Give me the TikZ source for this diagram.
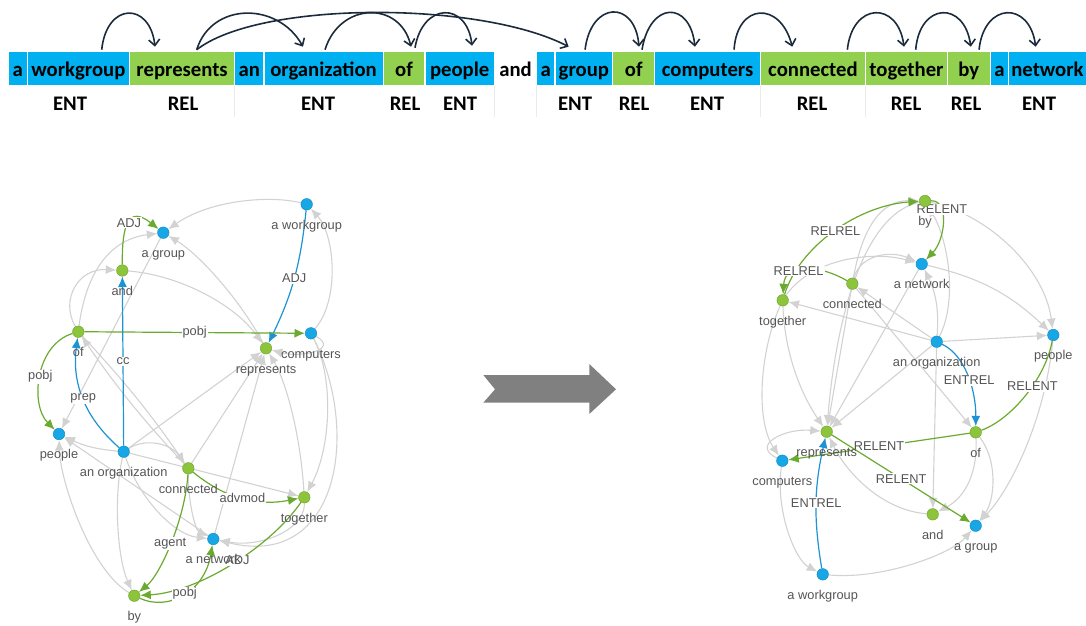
\documentclass[tikz,border=0pt]{standalone}
\usepackage{fontspec}
\setmainfont{Liberation Sans}
\newfontfamily\barfont{Carlito}
\usepackage{tikz}
\usetikzlibrary{positioning,arrows.meta,backgrounds}
\usepackage{xcolor}
\definecolor{entblue}{HTML}{00B0F0}
\definecolor{relgreen}{HTML}{92D050}
\definecolor{arcnavy}{HTML}{1C2B3C}
\definecolor{nodeblue}{HTML}{18A7E6}
\definecolor{nodegreen}{HTML}{8CC43C}
\definecolor{edgegray}{HTML}{D2D2D2}
\definecolor{edgegreen}{HTML}{6AAA2E}
\definecolor{edgeblue}{HTML}{1E93D3}
\definecolor{labgray}{HTML}{555555}
\definecolor{arrowgray}{HTML}{808080}

\begin{document}
\begin{tikzpicture}[x=1pt,y=-1pt,>={Latex[length=10.5pt,width=9pt]},
  node distance=1.2pt,
  word/.style={minimum height=33.3pt,inner sep=0pt,outer sep=0pt,
               font=\barfont\bfseries\fontsize{20.7}{24}\selectfont,
               text height=17pt,text depth=0pt},
  ent/.style={word,fill=entblue},
  rel/.style={word,fill=relgreen},
  tag/.style={font=\barfont\bfseries\fontsize{20.7}{24}\selectfont,anchor=base,inner sep=0pt},
  dep/.style={arcnavy,line width=1.6pt,-{Straight Barb[length=6pt,width=11pt]}},
  sepline/.style={black!8,line width=0.6pt},
  vb/.style={circle,minimum size=11.5pt,inner sep=0pt,fill=nodeblue,draw=nodeblue!85!black,line width=0.5pt},
  vg/.style={circle,minimum size=11.5pt,inner sep=0pt,fill=nodegreen,draw=nodegreen!85!black,line width=0.5pt},
  lbl/.style={font=\fontsize{12.8}{14}\selectfont,text=labgray,inner sep=0pt,
              text height=9.5pt,text depth=2.7pt},
  elbl/.style={font=\fontsize{12.8}{14}\selectfont,text=labgray,fill=white,inner sep=1pt},
  ge/.style={edgegray,line width=1.1pt,->},
  gre/.style={edgegreen,line width=1.2pt,->},
  ble/.style={edgeblue,line width=1.2pt,->}]
 \useasboundingbox (0,0) rectangle (1086,625);

 % sentence bar
 \node[ent,minimum width=17.7pt,anchor=west] (wa1) at (9,68.35) {a};
 \node[ent,minimum width=101pt,right=of wa1] (wwg) {workgroup};
 \node[rel,minimum width=104pt,right=of wwg] (wrep) {represents};
 \node[ent,minimum width=28pt,right=of wrep] (wan) {an};
 \node[ent,minimum width=118pt,right=of wan] (worg) {organization};
 \node[rel,minimum width=40.6pt,right=of worg] (wof1) {of};
 \node[ent,minimum width=68.4pt,right=of wof1] (wppl) {people};
 \node[word,minimum width=41pt,right=of wppl] (wand) {and};
 \node[ent,minimum width=17pt,right=of wand] (wa2) {a};
 \node[ent,minimum width=56.7pt,right=of wa2] (wgrp) {group};
 \node[rel,minimum width=40.6pt,right=of wgrp] (wof2) {of};
 \node[ent,minimum width=104.7pt,right=of wof2] (wcmp) {computers};
 \node[rel,minimum width=103.7pt,right=of wcmp] (wcon) {connected};
 \node[rel,minimum width=81pt,right=of wcon] (wtog) {together};
 \node[rel,minimum width=41.3pt,right=of wtog] (wby) {by};
 \node[ent,minimum width=17.3pt,right=of wby] (wa3) {a};
 \node[ent,minimum width=76.5pt,right=of wa3] (wnet) {network};

 \node[tag] (t1) at (70,110) {ENT};
 \node[tag] (t2) at (183,110) {REL};
 \node[tag] (t3) at (318,110) {ENT};
 \node[tag] (t4) at (405,110) {REL};
 \node[tag] (t5) at (460,110) {ENT};
 \node[tag] (t6) at (575,110) {ENT};
 \node[tag] (t7) at (634,110) {REL};
 \node[tag] (t8) at (707,110) {ENT};
 \node[tag] (t9) at (812,110) {REL};
 \node[tag] (t10) at (906,110) {REL};
 \node[tag] (t11) at (966,110) {REL};
 \node[tag] (t12) at (1039,110) {ENT};
 \draw[sepline] (wrep.south east) -- ++(0,32);
 \draw[sepline] (wppl.south east) -- ++(0,32);
 \draw[sepline] (wand.south east) -- ++(0,32);
 \draw[sepline] (wcmp.south east) -- ++(0,32);
 \draw[sepline] (wcon.south east) -- ++(0,32);

 \draw[dep] ([xshift=23.3pt,yshift=2pt]wwg.north) .. controls +(5,-48) and +(-5,-45) .. ([xshift=-27.1pt,yshift=5pt]wrep.north);
 \draw[dep] ([xshift=14.6pt,yshift=2pt]wrep.north) .. controls +(15,-48) and +(-25,-45) .. ([xshift=-20.5pt,yshift=5pt]worg.north);
 \draw[dep] ([xshift=14.6pt,yshift=2pt]wrep.north) .. controls +(63,-49) and +(-89,-46) .. ([xshift=-15.2pt,yshift=5pt]wgrp.north);
 \draw[dep] ([xshift=1.5pt,yshift=2pt]worg.north) .. controls +(15,-48) and +(-11,-46) .. ([xshift=7pt,yshift=5pt]wof1.north);
 \draw[dep] ([xshift=11pt,yshift=4pt]wof1.north) .. controls +(8,-46) and +(-5,-44) .. ([xshift=12.3pt,yshift=6pt]wppl.north);
 \draw[dep] ([xshift=1.2pt,yshift=2pt]wgrp.north) .. controls +(6,-49) and +(-4,-47) .. ([xshift=5.3pt,yshift=5pt]wof2.north);
 \draw[dep] ([xshift=8.3pt,yshift=2pt]wof2.north) .. controls +(8,-49) and +(-5,-46) .. ([xshift=-12.6pt,yshift=5pt]wcmp.north);
 \draw[dep] ([xshift=26.5pt,yshift=2pt]wcmp.north) .. controls +(3,-47) and +(-12,-46) .. ([xshift=-20.7pt,yshift=5pt]wcon.north);
 \draw[dep] ([xshift=34.4pt,yshift=2pt]wcon.north) .. controls +(5,-48) and +(-6,-46) .. ([xshift=-2.5pt,yshift=5pt]wtog.north);
 \draw[dep] ([xshift=9.2pt,yshift=2pt]wtog.north) .. controls +(4,-48) and +(-6,-46) .. ([xshift=1.9pt,yshift=5pt]wby.north);
 \draw[dep] ([xshift=10.2pt,yshift=2pt]wby.north) .. controls +(5,-48) and +(-6,-46) .. ([xshift=-11.8pt,yshift=5pt]wnet.north);

 % middle arrow
 \fill[arrowgray] (483.3,375) -- (589.3,375) -- (589.3,364) -- (616,389.3) -- (589.3,414)
   -- (589.3,402.7) -- (483.3,402.7) -- (495,389.3) -- cycle;

 % dependency graph (left)
 \node[vb] (lwg) at (306.7,204.3) {};
 \node[vb] (lgrp) at (163.3,232.7) {};
 \node[vg] (land) at (122.3,270.5) {};
 \node[vg] (lof) at (78.3,331.7) {};
 \node[vg] (lrep) at (266,348.3) {};
 \node[vb] (lcmp) at (311,333.3) {};
 \node[vb] (lppl) at (59,434) {};
 \node[vb] (lorg) at (123.7,451.7) {};
 \node[vg] (lcon) at (188.3,468.3) {};
 \node[vg] (ltog) at (304.3,497.3) {};
 \node[vb] (lnet) at (213.3,539) {};
 \node[vg] (lby) at (134.3,595.7) {};
 \node[lbl,below=9pt of lwg] (lwg-t) {a workgroup};
 \node[lbl,below=9pt of lgrp] (lgrp-t) {a group};
 \node[lbl,below=9pt of land] (land-t) {and};
 \node[lbl,below=9pt of lof] (lof-t) {of};
 \node[lbl,below=9pt of lrep] (lrep-t) {represents};
 \node[lbl,below=9pt of lcmp] (lcmp-t) {computers};
 \node[lbl,below=9pt of lppl] (lppl-t) {people};
 \node[lbl,below=9pt of lorg] (lorg-t) {an organization};
 \node[lbl,below=9pt of lcon] (lcon-t) {connected};
 \node[lbl,below=9pt of ltog] (ltog-t) {together};
 \node[lbl,below=9pt of lnet] (lnet-t) {a network};
 \node[lbl,below=9pt of lby] (lby-t) {by};

 % triple graph (right)
 \node[vg] (rby) at (925,201) {};
 \node[vb] (rnet) at (921.7,264) {};
 \node[vg] (rcon) at (852.3,283.7) {};
 \node[vg] (rtog) at (782.7,300.3) {};
 \node[vb] (rorg) at (936.7,341.7) {};
 \node[vb] (rppl) at (1053.3,335) {};
 \node[vg] (rrep) at (826.7,431.7) {};
 \node[vg] (rof) at (975.7,432.3) {};
 \node[vb] (rcmp) at (782.3,460.7) {};
 \node[vg] (rand) at (932.7,514.3) {};
 \node[vb] (rgrp) at (975.7,525.7) {};
 \node[vb] (rwg) at (822.7,574.3) {};
 \node[lbl,below=9pt of rby] (rby-t) {by};
 \node[lbl,below=9pt of rnet] (rnet-t) {a network};
 \node[lbl,below=9pt of rcon] (rcon-t) {connected};
 \node[lbl,below=9pt of rtog] (rtog-t) {together};
 \node[lbl,below=9pt of rorg] (rorg-t) {an organization};
 \node[lbl,below=9pt of rppl] (rppl-t) {people};
 \node[lbl,below=9pt of rrep] (rrep-t) {represents};
 \node[lbl,below=9pt of rof] (rof-t) {of};
 \node[lbl,below=9pt of rcmp] (rcmp-t) {computers};
 \node[lbl,below=9pt of rand] (rand-t) {and};
 \node[lbl,below=9pt of rgrp] (rgrp-t) {a group};
 \node[lbl,below=9pt of rwg] (rwg-t) {a workgroup};

 \begin{scope}[on background layer]
  % left: plain edges
  \draw[ge] (lcmp) .. controls (340,300) and (335,235) .. (lwg);
  \draw[ge] (lcmp) .. controls (340,350) and (300,358) .. (lrep);
  \draw[ge] (lwg) .. controls (270,195) and (210,200) .. (lgrp);
  \draw[ge] (lrep) .. controls (240,300) and (200,255) .. (lgrp);
  \draw[ge] (lof) .. controls (85,280) and (105,240) .. (lgrp);
  \draw[ge] (lof) .. controls (60,300) and (78,268) .. (land);
  \draw[ge] (land) .. controls (180,275) and (235,305) .. (lrep);
  \draw[ge] (lgrp) -- (lppl);
  \draw[ge] (lof) to[bend left=4] (lcon);
  \draw[ge] (lcon) to[bend left=4] (lof);
  \draw[ge] (lorg) -- (lrep);
  \draw[ge] (lcon) -- (lrep);
  \draw[ge] (lnet) -- (lrep);
  \draw[ge] (ltog) .. controls (300,430) and (285,380) .. (lrep);
  \draw[ge] (lcmp) .. controls (335,380) and (330,450) .. (ltog);
  \draw[ge] (lcmp) .. controls (360,430) and (340,570) .. (lnet);
  \draw[ge] (lorg) to[bend left=10] (lppl);
  \draw[ge] (lnet) -- (lppl);
  \draw[ge] (lby) .. controls (90,570) and (60,480) .. (lppl);
  \draw[ge] (lorg) .. controls (145,438) and (170,443) .. (lcon);
  \draw[ge] (lorg) -- (ltog);
  \draw[ge] (lorg) .. controls (140,500) and (175,535) .. (lnet);
  \draw[ge] (lcon) .. controls (188,500) and (195,530) .. (lnet);
  \draw[ge] (lorg) .. controls (113,500) and (118,560) .. (lby);
  \draw[ge] (ltog) .. controls (305,530) and (260,548) .. (lnet);
  % left: labelled edges
  \draw[ble] (lwg) to[bend left=10] node[elbl,pos=0.5] (e1) {ADJ} (lrep);
  \draw[gre] (lof) -- node[elbl,pos=0.5] (e2) {pobj} (lcmp);
  \draw[ble] (lorg) -- node[elbl,pos=0.5] (e3) {cc} (land);
  \draw[ble] (lorg) to[bend left=28] node[elbl,pos=0.5] (e4) {prep} (lof);
  \draw[gre] (land) .. controls (122,225) and (128,205) .. (lgrp) node[elbl,pos=0.5] (e5) {ADJ};
  \draw[gre] (lof) .. controls (35,345) and (30,405) .. (lppl) node[elbl,pos=0.5] (e6) {pobj};
  \draw[gre] (lcon) to[bend right=25] node[elbl,pos=0.5] (e7) {advmod} (ltog);
  \draw[gre] (lcon) .. controls (185,520) and (160,575) .. (lby) node[elbl,pos=0.5] (e8) {agent};
  \draw[gre] (ltog) .. controls (272,545) and (200,592) .. (lby) node[elbl,pos=0.47] (e9) {ADJ};
  \draw[gre] (lby) .. controls (170,612) and (205,590) .. (lnet) node[elbl,pos=0.5] (e10) {pobj};

  % right: plain edges
  \draw[ge] (rorg) -- (rtog);
  \draw[ge] (rorg) -- (rcon);
  \draw[ge] (rorg) to[bend right=15] (rnet);
  \draw[ge] (rorg) -- (rppl);
  \draw[ge] (rorg) .. controls (958,300) and (948,240) .. (rby);
  \draw[ge] (rnet) to[bend left=15] (rppl);
  \draw[ge] (rby) .. controls (990,215) and (1045,270) .. (rppl);
  \draw[ge] (rnet) -- (rrep);
  \draw[ge] (rtog) .. controls (810,260) and (870,250) .. (rnet);
  \draw[ge] (rcon) .. controls (860,255) and (890,250) .. (rnet);
  \draw[ge] (rcon) .. controls (862,230) and (880,200) .. (rby);
  \draw[ge] (rtog) .. controls (785,360) and (805,400) .. (rrep);
  \draw[ge] (rcon) -- (rrep);
  \draw[ge] (rorg) -- (rrep);
  \draw[ge] (rcon) -- (rof);
  \draw[ge] (rorg) -- (rand);
  \draw[ge] (rof) .. controls (978,480) and (960,500) .. (rand);
  \draw[ge] (rof) .. controls (998,460) and (995,500) .. (rgrp);
  \draw[ge] (rppl) .. controls (1045,420) and (1010,490) .. (rgrp);
  \draw[ge] (rwg) .. controls (880,580) and (950,555) .. (rgrp);
  \draw[ge] (rcmp) .. controls (775,510) and (795,560) .. (rwg);
  \draw[ge] (rcmp) .. controls (750,445) and (785,428) .. (rrep);
  \draw[ge] (rand) .. controls (880,510) and (845,470) .. (rrep);
  \draw[ge] (rtog) .. controls (760,350) and (755,420) .. (rcmp);
  \draw[ge] (rby) .. controls (860,215) and (835,330) .. (rrep);
  % right: labelled edges
  \draw[gre] (rtog) .. controls (800,245) and (860,205) .. (rby) node[elbl,pos=0.5] (f1) {RELREL};
  \draw[gre] (rcon) .. controls (820,265) and (785,262) .. (rtog) node[elbl,pos=0.6] (f2) {RELREL};
  \draw[gre] (rby) .. controls (950,200) and (945,240) .. (rnet) node[elbl,pos=0.3] (f3) {RELENT};
  \draw[ble] (rorg) .. controls (965,355) and (976,390) .. (rof) node[elbl,pos=0.55] (f4) {ENTREL};
  \draw[gre,-] (rof) .. controls (1010,420) and (1045,380) .. (rppl) node[elbl,pos=0.6] (f5) {RELENT};
  \draw[gre] (rof) -- node[elbl,pos=0.5] (f6) {RELENT} (rcmp);
  \draw[gre] (rrep) -- node[elbl,pos=0.5] (f7) {RELENT} (rgrp);
  \draw[ble] (rwg) to[bend left=11] node[elbl,pos=0.5] (f8) {ENTREL} (rrep);
 \end{scope}
\end{tikzpicture}
\end{document}
